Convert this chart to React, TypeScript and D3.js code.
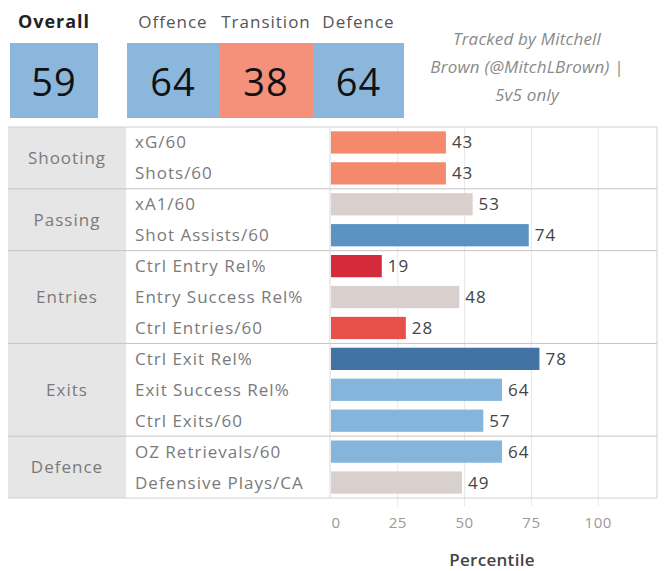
import React from "react";
import * as d3 from "d3";

const groups = ["Shooting", "Passing", "Entries", "Exits", "Defence"];
const metrics = [
  "xG/60", "Shots/60",
  "xA1/60", "Shot Assists/60",
  "Ctrl Entry Rel%", "Entry Success Rel%", "Ctrl Entries/60",
  "Ctrl Exit Rel%", "Exit Success Rel%", "Ctrl Exits/60",
  "OZ Retrievals/60", "Defensive Plays/CA",
];
const metricGroup = [
  "Shooting", "Shooting",
  "Passing", "Passing",
  "Entries", "Entries", "Entries",
  "Exits", "Exits", "Exits",
  "Defence", "Defence",
];
const values = [43, 43, 53, 74, 19, 48, 28, 78, 64, 57, 64, 49];
const summaryLabels = ["Overall", "Offence", "Transition", "Defence"];
const summaryValues = [59, 64, 38, 64];
const xTicks = [0, 25, 50, 75, 100];
const creditLines = ["Tracked by Mitchell", "Brown (@MitchLBrown) |", "5v5 only"];

const FONT = "'Open Sans', 'Noto Sans', sans-serif";

const color = d3
  .scaleThreshold<number, string>()
  .domain([25, 35, 45, 55, 70, 76])
  .range(["#d42a3a", "#e8504a", "#f4896c", "#d9d0ce", "#86b5db", "#5b93c3", "#4273a5"]);

export default function App() {
  const W = 664, H = 571;
  const tableLeft = 8, groupRight = 126, metricRight = 330, tableRight = 657;
  const tableTop = 127, tableBottom = 498;

  const y = d3.scaleBand<number>()
    .domain(metrics.map((_, i) => i))
    .range([tableTop, tableBottom])
    .paddingInner(0.28)
    .paddingOuter(0.14);
  const rowH = (tableBottom - tableTop) / metrics.length;
  const rowTop = (i: number) => tableTop + i * rowH;

  const x = d3.scaleLinear().domain([0, 122]).range([331, tableRight]);

  const groupSpans = groups.map((g) => {
    const idx = metricGroup.map((m, i) => (m === g ? i : -1)).filter((i) => i >= 0);
    const start = idx[0], end = idx[idx.length - 1];
    return { g, top: rowTop(start), bottom: rowTop(end) + rowH };
  });

  const boxes = [
    { x0: 10, x1: 98 },
    { x0: 127, x1: 219 },
    { x0: 219, x1: 313 },
    { x0: 313, x1: 404 },
  ];

  return (
    <svg width={W} height={H} style={{ position: "absolute", left: 0, top: 0, background: "#fff" }} fontFamily={FONT}>
      {summaryLabels.map((lab, i) => {
        const b = boxes[i];
        const cx = (b.x0 + b.x1) / 2;
        return (
          <g key={lab}>
            <text x={cx} y={28} textAnchor="middle" fontSize={i === 0 ? 18 : 17}
              letterSpacing={1} fontWeight={i === 0 ? 700 : 400} fill={i === 0 ? "#222" : "#555"}>{lab}</text>
            <rect x={b.x0} y={43} width={b.x1 - b.x0} height={75} fill={color(summaryValues[i]) === "#f4896c" ? "#f5917a" : "#8cb7dc"} />
            <text x={cx} y={96} textAnchor="middle" fontSize={38} letterSpacing={1} fill="#111">{summaryValues[i]}</text>
          </g>
        );
      })}
      {creditLines.map((t, i) => (
        <text key={t} x={527} y={45 + i * 28} textAnchor="middle" fontSize={17} letterSpacing={0.2} fontStyle="italic" fill="#8a8a8a">{t}</text>
      ))}

      <rect x={tableLeft} y={tableTop} width={groupRight - tableLeft} height={tableBottom - tableTop} fill="#e6e6e6" />
      {xTicks.filter((t) => t > 0).map((t) => (
        <line key={t} x1={x(t)} x2={x(t)} y1={tableTop} y2={tableBottom + 8} stroke="#e8e8e8" strokeWidth={1} />
      ))}
      {groupSpans.map((s, i) => (
        <g key={s.g}>
          {i > 0 && <line x1={tableLeft} x2={tableRight} y1={s.top} y2={s.top} stroke="#c4c4c4" strokeWidth={1} />}
          <text x={(tableLeft + groupRight) / 2} y={(s.top + s.bottom) / 2 + 6} textAnchor="middle" fontSize={17} letterSpacing={1} fill="#7a7a7a">{s.g}</text>
        </g>
      ))}
      <line x1={tableLeft} x2={tableRight} y1={tableTop} y2={tableTop} stroke="#d0d0d0" />
      <line x1={tableLeft} x2={tableRight} y1={tableBottom} y2={tableBottom} stroke="#d0d0d0" />
      <line x1={tableRight} x2={tableRight} y1={tableTop} y2={tableBottom} stroke="#d0d0d0" />
      <line x1={metricRight} x2={metricRight} y1={tableTop} y2={tableBottom} stroke="#d8d8d8" />

      {metrics.map((m, i) => {
        const by = y(i)!;
        const bh = y.bandwidth();
        const v = values[i];
        return (
          <g key={m}>
            <text x={135} y={rowTop(i) + rowH / 2 + 6} fontSize={17} letterSpacing={1} fill="#7a7a7a">{m}</text>
            <rect x={x(0)} y={by} width={x(v) - x(0)} height={bh} fill={color(v)} />
            <text x={x(v) + 6} y={by + bh / 2 + 6} fontSize={17} letterSpacing={1} fill="#444">{v}</text>
          </g>
        );
      })}

      {xTicks.map((t) => (
        <text key={t} x={x(t) + (t === 0 ? 5 : 0)} y={528} textAnchor="middle" fontSize={15} letterSpacing={0.5} fill="#9a9a9a">{t}</text>
      ))}
      <text x={492} y={566} textAnchor="middle" fontSize={17} letterSpacing={0.3} fontWeight={600} fill="#444">Percentile</text>
    </svg>
  );
}
